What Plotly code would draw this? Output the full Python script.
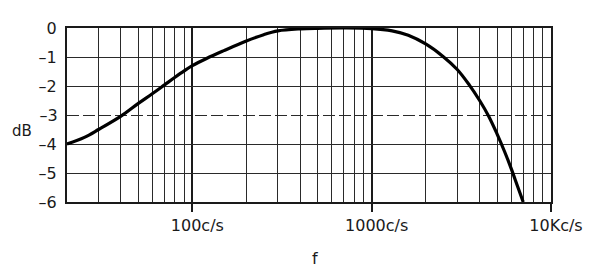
import plotly.graph_objects as go

# Frequency response (Hz, dB)
freq = [20, 25, 30, 40, 50, 60, 70, 80, 90, 100, 120, 150, 200, 250, 300, 400, 500,
        700, 1000, 1300, 1600, 2000, 2500, 3000, 3500, 4000, 4500, 5000, 5500, 6000,
        6500, 7000]
db = [-4.0, -3.77, -3.5, -3.04, -2.6, -2.26, -1.96, -1.7, -1.48, -1.3, -1.05, -0.78,
      -0.45, -0.23, -0.1, -0.03, -0.01, 0.0, -0.02, -0.1, -0.25, -0.55, -0.98, -1.43,
      -1.96, -2.5, -3.05, -3.65, -4.25, -4.85, -5.45, -6.0]

x_major = [100, 1000, 10000]
x_major_text = ["100c/s", "1000c/s", "10Kc/s"]
x_minor = [30, 40, 50, 60, 70, 80, 90,
           200, 300, 400, 500, 600, 700, 800, 900,
           2000, 3000, 4000, 5000, 6000, 7000, 8000, 9000]
y_solid = [0, -1, -2, -4, -5, -6]
y_solid_text = ["0", "–1", "–2", "–4", "–5", "–6"]
y_dashed = [-3]
y_dashed_text = ["–3"]

FONT = "DejaVu Sans"
INK = "#1a1a1a"
GRID = "#2a2a2a"
TICKFONT = dict(size=16, family=FONT, color=INK)

fig = go.Figure()
fig.add_trace(go.Scatter(
    x=freq, y=db, mode="lines",
    line=dict(color="black", width=3.2, shape="spline", smoothing=1.0),
    cliponaxis=False, hoverinfo="skip", showlegend=False,
))
# empty trace that only anchors the overlaid axis carrying the dashed -3 dB line
fig.add_trace(go.Scatter(x=[], y=[], yaxis="y2", mode="lines",
                         hoverinfo="skip", showlegend=False))

fig.update_layout(
    width=600, height=271,
    margin=dict(l=67, r=49, t=28, b=69),
    paper_bgcolor="white", plot_bgcolor="white",
    font=dict(family=FONT, color=INK),
    xaxis=dict(
        type="log", range=[1.30103, 4.0],
        tickvals=x_major, ticktext=x_major_text,
        ticks="outside", ticklen=8, tickwidth=2, tickcolor=INK,
        tickfont=TICKFONT, ticklabelshift=5,
        showgrid=True, gridcolor=INK, gridwidth=2,
        showline=True, linecolor=INK, linewidth=1.6, mirror=True,
        zeroline=False,
        minor=dict(tickvals=x_minor, showgrid=True, gridcolor=GRID,
                   gridwidth=1, ticks=""),
    ),
    yaxis=dict(
        range=[-6, 0],
        tickvals=y_solid, ticktext=y_solid_text,
        ticks="outside", ticklen=5, tickcolor="rgba(0,0,0,0)",
        tickfont=TICKFONT,
        showgrid=True, gridcolor=GRID, gridwidth=1,
        showline=True, linecolor=INK, linewidth=2, mirror=True,
        zeroline=False,
    ),
    yaxis2=dict(
        overlaying="y", side="left", range=[-6, 0],
        tickvals=y_dashed, ticktext=y_dashed_text,
        ticks="outside", ticklen=5, tickcolor="rgba(0,0,0,0)",
        tickfont=TICKFONT,
        showgrid=True, gridcolor=GRID, gridwidth=1.2, griddash="12px,4px",
        showline=False, zeroline=False,
    ),
    annotations=[
        dict(text="dB", xref="paper", yref="paper", x=-0.092, y=0.41,
             xanchor="center", yanchor="middle", showarrow=False,
             font=dict(size=15, family=FONT, color=INK)),
        dict(text="f", xref="paper", yref="paper", x=0.512, y=-0.322,
             xanchor="center", yanchor="middle", showarrow=False,
             font=dict(size=16, family=FONT, color=INK)),
    ],
)

fig.write_html("out.html")
